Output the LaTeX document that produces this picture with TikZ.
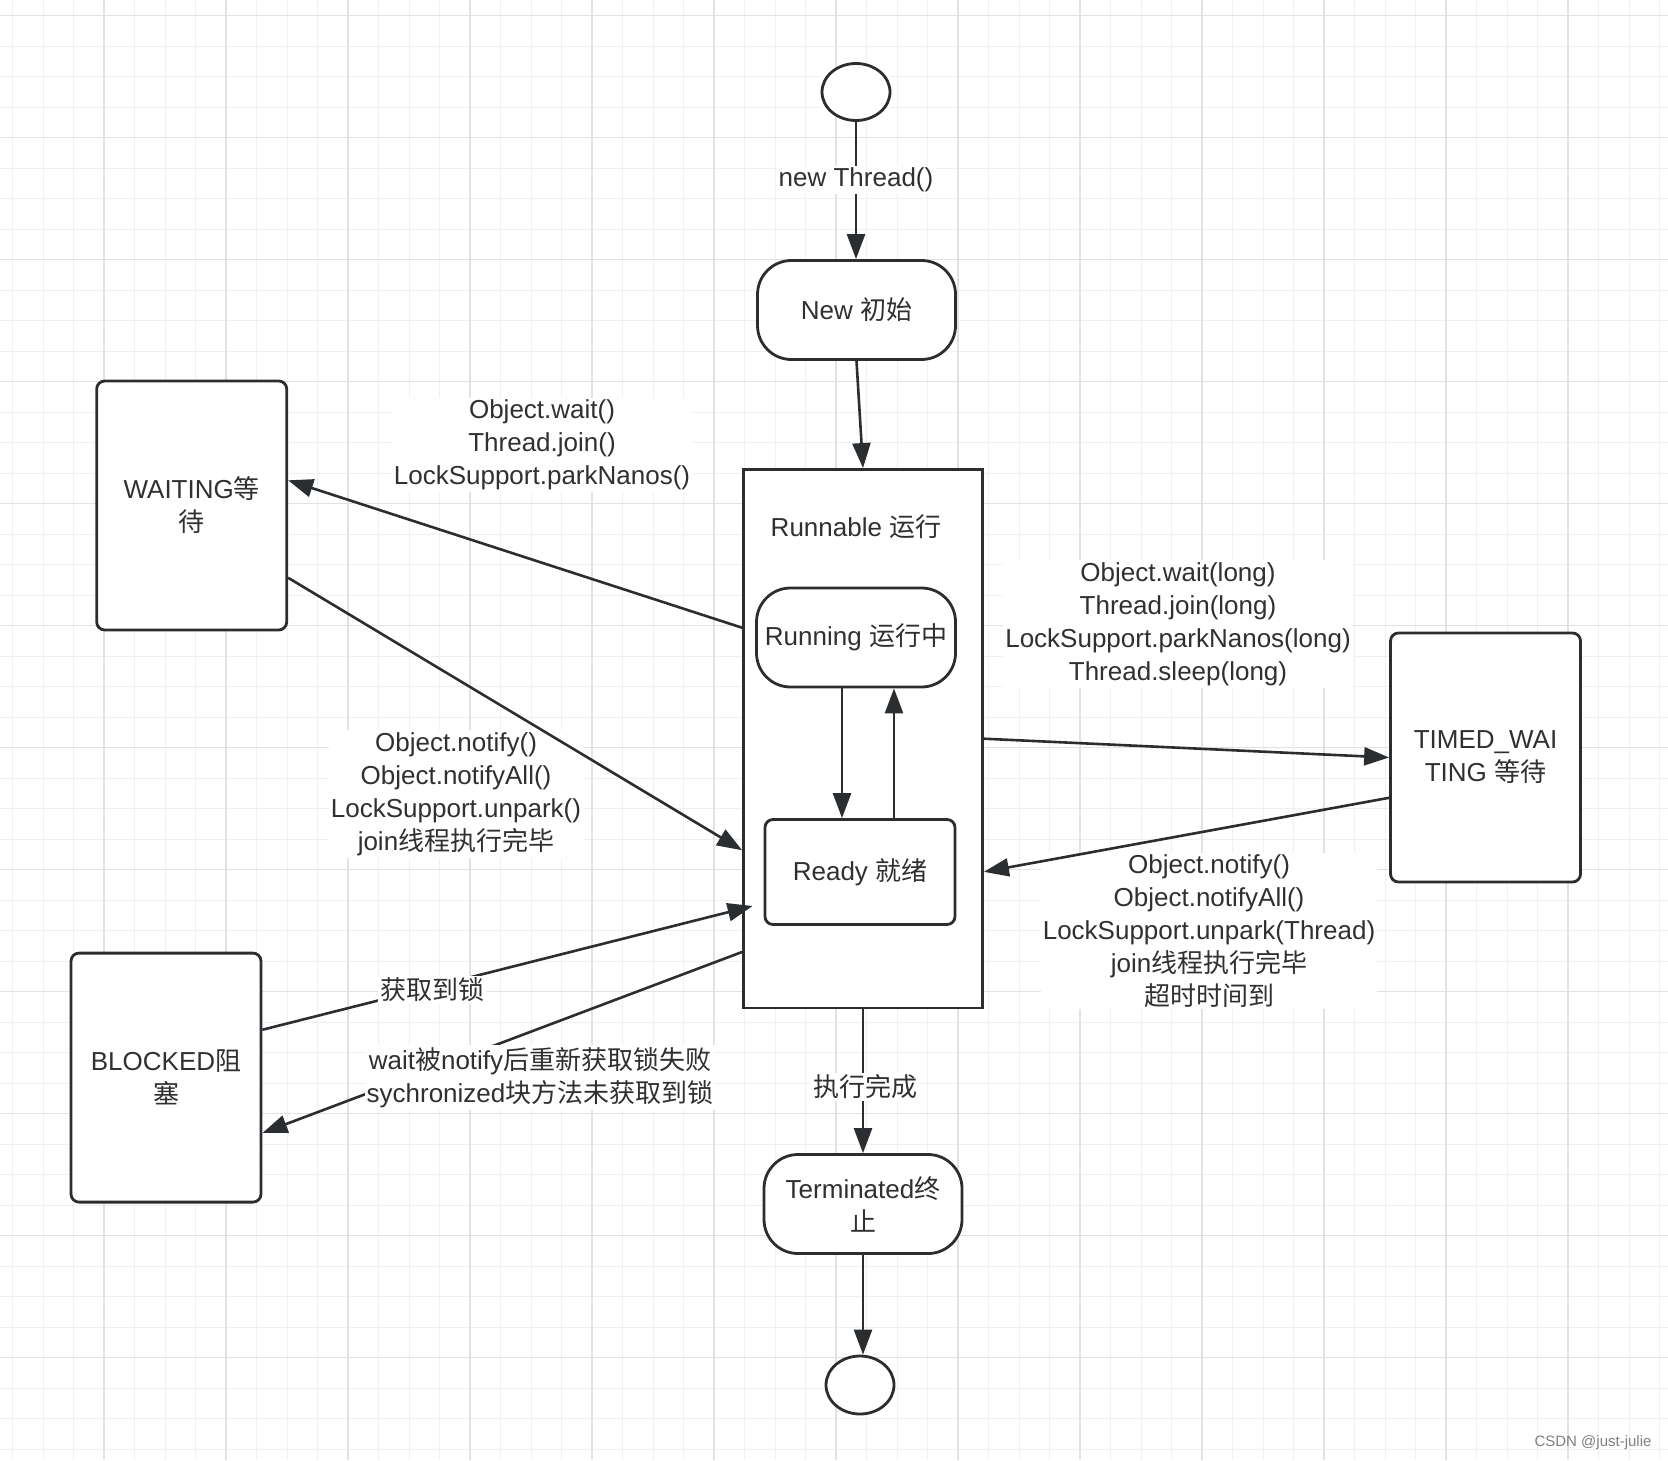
\documentclass[tikz,border=0pt]{standalone}
\usepackage{fontspec}
\setmainfont{Liberation Sans}
\newfontfamily\zhf{Noto Sans CJK SC}
\newcommand\zh[1]{{\zhf #1}}
\usetikzlibrary{arrows.meta,calc,shapes.geometric}
\definecolor{ink}{HTML}{2B2E31}
\definecolor{txt}{HTML}{303030}
\definecolor{gridminor}{HTML}{F0F0F0}
\definecolor{gridmajor}{HTML}{E2E2E2}
\begin{document}
\begin{tikzpicture}[x=0.5pt,y=-0.5pt,
  every node/.style={font=\fontsize{13pt}{16.5pt}\selectfont, text=txt},
  box/.style={draw=ink, line width=1.4pt, fill=white, rounded corners=4pt, align=center, minimum width=95pt, minimum height=124.5pt},
  pill/.style={draw=ink, line width=1.4pt, fill=white, rounded corners=17pt, align=center, minimum width=99pt, minimum height=49.5pt},
  dot/.style={draw=ink, line width=1.4pt, fill=white, ellipse, inner sep=0pt, minimum width=34pt, minimum height=28.5pt},
  conn/.style={draw=ink, line width=1.3pt, -{Triangle[length=12.5pt,width=9pt]}},
  lbl/.style={fill=white, inner sep=1pt, align=center},
  gmin/.style={draw=gridminor, line width=0.5pt},
  gmaj/.style={draw=gridmajor, line width=0.75pt},
]
\useasboundingbox (0,0) rectangle (1668,1460);
\fill[white] (0,0) rectangle (1668,1460);
% grid
\foreach \i in {0,...,54} { \draw[gmin] ({12.5+30.5*\i},0) -- ({12.5+30.5*\i},1460); }
\foreach \j in {0,...,47} { \draw[gmin] (0,{15.7+30.5*\j}) -- (1668,{15.7+30.5*\j}); }
\foreach \i in {0,...,12} { \draw[gmaj] ({104+122*\i},0) -- ({104+122*\i},1460); }
\foreach \j in {0,...,11} { \draw[gmaj] (0,{15.7+122*\j}) -- (1668,{15.7+122*\j}); }

% nodes
\node[dot] (start) at (856,92) {};
\node[pill] (new) at (856.5,310) {New \zh{初始}};
\node[draw=ink, line width=1.4pt, fill=white, minimum width=119.5pt, minimum height=269.25pt, inner sep=0pt] (runnable) at (863,738.7) {};
\node (runlbl) at (856,527) {Runnable \zh{运行}};
\node[pill, minimum width=99.5pt] (running) at (856,637.5) {Running \zh{运行中}};
\node[box, minimum height=52.5pt] (ready) at (860,872) {Ready \zh{就绪}};
\node[box] (waiting) at (191.7,505.5) {WAITING\zh{等}\\\zh{待}};
\node[box] (timed) at (1485.5,757.5) {TIMED\_WAI\\TING \zh{等待}};
\node[box] (blocked) at (166,1077.6) {BLOCKED\zh{阻}\\\zh{塞}};
\node[pill] (term) at (863,1204) {Terminated\zh{终}\\\zh{止}};
\node[dot, minimum height=29pt] (end) at (860,1385) {};

% labels not interrupting lines
\node[lbl] (lwait) at (542,445) {Object.wait()\\Thread.join()\\LockSupport.parkNanos()};
\node[lbl] (lnotify) at (456,794) {Object.notify()\\Object.notifyAll()\\LockSupport.unpark()\\join\zh{线程执行完毕}};
\node[lbl] (ltw) at (1178,624) {Object.wait(long)\\Thread.join(long)\\LockSupport.parkNanos(long)\\Thread.sleep(long)};
\node[lbl] (ltn) at (1209,931) {Object.notify()\\Object.notifyAll()\\LockSupport.unpark(Thread)\\join\zh{线程执行完毕}\\\zh{超时时间到}};

% connectors
\draw[conn] (start.south) -- (start.south |- new.north);
\draw[conn] (new.south) -- (runnable.north);
\draw[conn] ($(runnable.north west)!0.295!(runnable.south west)$) -- ($(waiting.north east)!0.4!(waiting.south east)$);
\draw[conn] ($(waiting.north east)!0.787!(waiting.south east)$) -- ($(runnable.north west)!0.706!(runnable.south west)$);
\draw[conn] (runnable.east) -- (timed.west);
\draw[conn] ($(timed.north west)!0.66!(timed.south west)$) -- ($(runnable.north east)!0.746!(runnable.south east)$);
\draw[conn] ($(running.south)+(-14,0)$) coordinate (rd) -- (rd |- ready.north);
\draw[conn] ($(ready.north)+(34,0)$) coordinate (ru) -- (ru |- running.south);
\draw[conn] ($(blocked.north east)!0.31!(blocked.south east)$) -- ($(ready.west)+(-11,34)$);
\draw[conn] ($(runnable.north west)!0.894!(runnable.south west)$) -- ($(blocked.north east)!0.72!(blocked.south east)$);
\draw[conn] (runnable.south) -- (term.north);
\draw[conn] (term.south) -- (term.south |- end.north);

% labels interrupting lines
\node[lbl] (lnew) at (856,180) {new Thread()};
\node[lbl] (lexec) at (865,1087) {\zh{执行完成}};
\node[lbl] (lacq) at (432,990) {\zh{获取到锁}};
\node[lbl] (lfail) at (540,1077.5) {wait\zh{被}notify\zh{后重新获取锁失败}\\sychronized\zh{块方法未获取到锁}};

\node[text=gray, font=\fontsize{7.5pt}{9pt}\selectfont, inner sep=0pt] (wm) at (1593,1443) {CSDN @just-julie};
\end{tikzpicture}
\end{document}
